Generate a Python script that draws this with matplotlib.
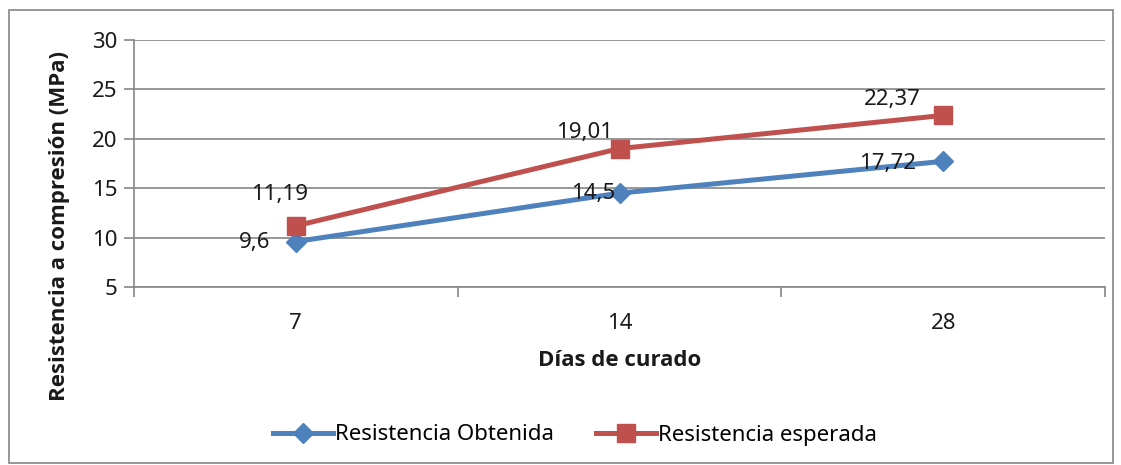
import matplotlib
matplotlib.use("Agg")
import matplotlib.pyplot as plt
from matplotlib.patches import Rectangle

# Curing days (categorical) and compressive strength in MPa
dias = ["7", "14", "28"]
obtenida = [9.6, 14.5, 17.72]
esperada = [11.19, 19.01, 22.37]
obtenida_labels = ["9,6", "14,5", "17,72"]
esperada_labels = ["11,19", "19,01", "22,37"]
y_ticks = [5, 10, 15, 20, 25, 30]

BLUE = "#4F81BD"
RED = "#C0504D"
GRID = "#868686"
TEXT = "#1a1a1a"
FONT = "Noto Sans"
TITLE_FONT = "Open Sans"
FS = 16

W, H = 1121, 465
fig = plt.figure(figsize=(W / 100, H / 100), dpi=100)
fig.patch.set_facecolor("white")

# outer chart frame
fig.add_artist(Rectangle((9 / W, 1 - 463 / H), (1113 - 9) / W, (463 - 10) / H,
                         transform=fig.transFigure, fill=False,
                         edgecolor=GRID, linewidth=1.2))

left, right, top, bottom = 134, 1105, 40, 287
ax = fig.add_axes([left / W, 1 - bottom / H, (right - left) / W, (bottom - top) / H])

x = list(range(len(dias)))
ax.plot(x, obtenida, color=BLUE, linewidth=3.6, marker="D", markersize=10,
        markeredgecolor=BLUE, label="Resistencia Obtenida", zorder=3)
ax.plot(x, esperada, color=RED, linewidth=3.6, marker="s", markersize=13,
        markeredgecolor=RED, label="Resistencia esperada", zorder=3)

ax.set_xlim(-0.5, len(dias) - 0.5)
ax.set_ylim(5, 30)
ax.set_yticks(y_ticks)
ax.set_yticklabels([str(v) for v in y_ticks], fontsize=FS, family=FONT, color=TEXT)
ax.set_xticks(x)
ax.set_xticklabels(dias, fontsize=FS, family=FONT, color=TEXT)
ax.set_xticks([i - 0.5 for i in x] + [len(dias) - 0.5], minor=True)

ax.grid(axis="y", color=GRID, linewidth=1.2)
ax.set_axisbelow(True)
for side in ("top", "right"):
    ax.spines[side].set_visible(False)
for side in ("left", "bottom"):
    ax.spines[side].set_color(GRID)
    ax.spines[side].set_linewidth(1.2)
ax.tick_params(axis="y", length=7, color=GRID, width=1.2, pad=5)
ax.tick_params(axis="x", which="major", length=0, pad=19)
ax.tick_params(axis="x", which="minor", length=7, color=GRID, width=1.2, direction="out")

# axis titles
fig.text(60 / W, 1 - 226 / H, "Resistencia a compresión (MPa)", rotation=90,
         ha="center", va="center", fontsize=FS, family=TITLE_FONT,
         fontweight="bold", color=TEXT)
fig.text(620 / W, 1 - 360 / H, "Días de curado", ha="center", va="center",
         fontsize=FS, family=TITLE_FONT, fontweight="bold", color=TEXT)

# data labels
obt_offsets = [(-41, -1), (-26, 0), (-56, -2)]
esp_offsets = [(-16, 31), (-35, 16), (-51, 16)]
for xi, yv, txt, off in zip(x, obtenida, obtenida_labels, obt_offsets):
    ax.annotate(txt, (xi, yv), xytext=off, textcoords="offset pixels",
                ha="center", va="center", fontsize=FS, family=FONT, color=TEXT)
for xi, yv, txt, off in zip(x, esperada, esperada_labels, esp_offsets):
    ax.annotate(txt, (xi, yv), xytext=off, textcoords="offset pixels",
                ha="center", va="center", fontsize=FS, family=FONT, color=TEXT)

leg = fig.legend(loc="center", bbox_to_anchor=(575 / W, 1 - 435 / H), ncol=2,
                 frameon=False, prop={"family": FONT, "size": FS},
                 handlelength=2.7, handletextpad=0.1, columnspacing=1.9)

fig.savefig("out.png", dpi=100)
